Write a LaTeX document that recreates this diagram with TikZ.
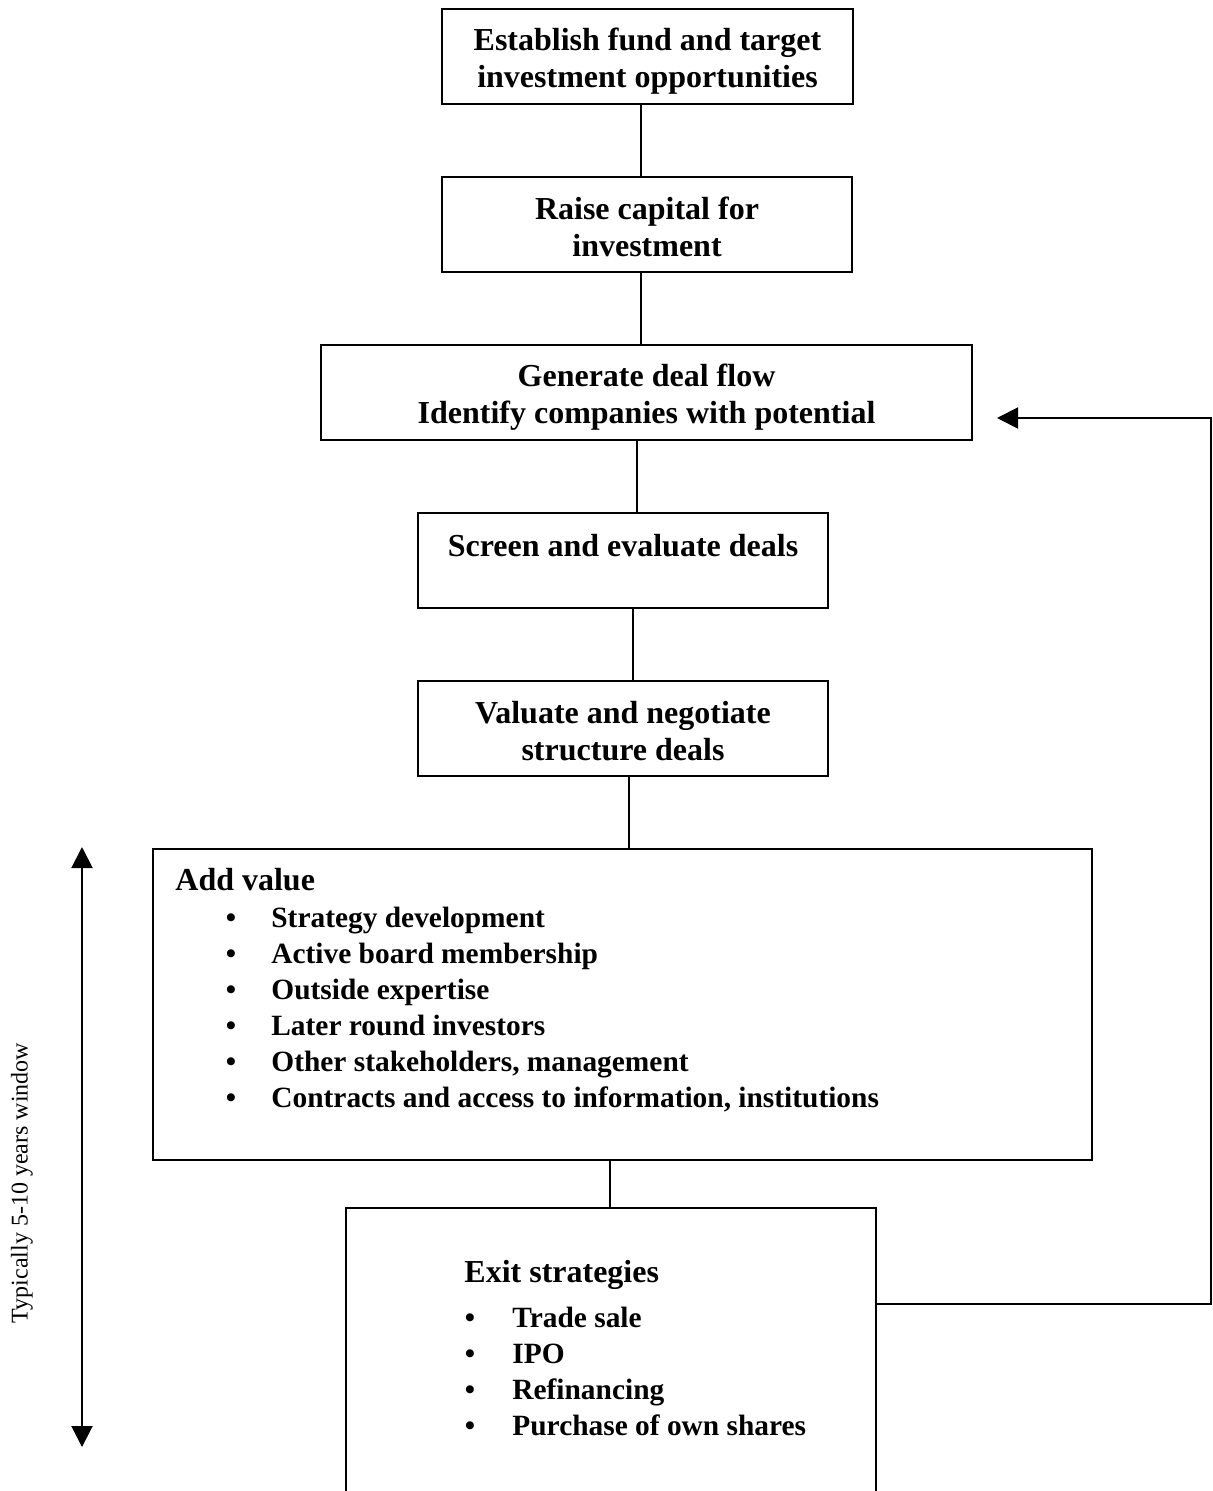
\documentclass[tikz,border=0pt]{standalone}
\usepackage{fontspec}
\setmainfont{Liberation Serif}
\usetikzlibrary{arrows.meta}
\tikzset{
  box/.style={draw, line width=1pt, rectangle, inner sep=0pt},
  boxtext/.style={inner sep=0pt, align=center,
    font=\bfseries\fontsize{16pt}{18.5pt}\selectfont},
  head/.style={anchor=base west, inner sep=0pt,
    font=\bfseries\fontsize{16pt}{18pt}\selectfont},
  item/.style={anchor=base west, inner sep=0pt,
    font=\bfseries\fontsize{14.7pt}{18pt}\selectfont},
  conn/.style={line width=1pt},
  tip/.style={-{Triangle[width=10.5pt,length=10.5pt]}},
}
\begin{document}
\begin{tikzpicture}[x=0.5pt,y=-0.5pt]
\useasboundingbox (0,0) rectangle (1213,1491);
\clip (0,0) rectangle (1213,1491);
\node[box, minimum width=205.5pt, minimum height=47.5pt] (n1) at (647.5,56.5) {};
\node[boxtext] (t1) at (647.5,61) {Establish fund and target\\investment opportunities};
\node[box, minimum width=205pt, minimum height=47.5pt] (n2) at (647,224.5) {};
\node[boxtext] (t2) at (647,227) {Raise capital for\\investment};
\node[box, minimum width=325.5pt, minimum height=47.5pt] (n3) at (646.5,392.5) {};
\node[boxtext] (t3) at (646.5,397) {Generate deal flow\\Identify companies with potential};
\node[box, minimum width=205pt, minimum height=47.5pt] (n4) at (623,560.5) {};
\node[boxtext] (t4) at (623,563.5) {Screen and evaluate deals\\\mbox{}};
\node[box, minimum width=205pt, minimum height=47.5pt] (n5) at (623,728.5) {};
\node[boxtext] (t5) at (623,731) {Valuate and negotiate\\structure deals};
\node[box, minimum width=469.5pt, minimum height=155.5pt] (n6) at (622.5,1004.5) {};
\node[box, minimum width=265pt, minimum height=156pt] (n7) at (611,1364) {};

% Add value contents
\node[head] (av) at (175,890) {Add value};
\node[item] (a1) at (225.5,927) {\makebox[22.75pt][l]{•}Strategy development};
\node[item] (a2) at (225.5,963) {\makebox[22.75pt][l]{•}Active board membership};
\node[item] (a3) at (225.5,999) {\makebox[22.75pt][l]{•}Outside expertise};
\node[item] (a4) at (225.5,1035) {\makebox[22.75pt][l]{•}Later round investors};
\node[item] (a5) at (225.5,1071) {\makebox[22.75pt][l]{•}Other stakeholders, management};
\node[item] (a6) at (225.5,1107) {\makebox[22.75pt][l]{•}Contracts and access to information, institutions};

% Exit contents
\node[head] (ex) at (464,1282) {Exit strategies};
\node[item] (e1) at (464.5,1327) {\makebox[23.75pt][l]{•}Trade sale};
\node[item] (e2) at (464.5,1363) {\makebox[23.75pt][l]{•}IPO};
\node[item] (e3) at (464.5,1399) {\makebox[23.75pt][l]{•}Refinancing};
\node[item] (e4) at (464.5,1435) {\makebox[23.75pt][l]{•}Purchase of own shares};

% connectors
\coordinate (x641) at (641,0);
\coordinate (x637) at (637,0);
\coordinate (x633) at (633,0);
\coordinate (x629) at (629,0);
\coordinate (x610) at (610,0);
\draw[conn] (n1.south -| x641) -- (n2.north -| x641);
\draw[conn] (n2.south -| x641) -- (n3.north -| x641);
\draw[conn] (n3.south -| x637) -- (n4.north -| x637);
\draw[conn] (n4.south -| x633) -- (n5.north -| x633);
\draw[conn] (n5.south -| x629) -- (n6.north -| x629);
\draw[conn] (n6.south -| x610) -- (n7.north -| x610);

% feedback loop
\coordinate (fbA) at (1211,1304);
\coordinate (fbTip) at (997,418);
\draw[conn, tip] (n7.east |- fbA) -- (fbA) |- (fbTip);

% time window arrow
\coordinate (wTop) at (82,847);
\coordinate (wBot) at (82,1447);
\draw[conn, {Triangle[width=10.5pt,length=10.5pt]}-{Triangle[width=10.5pt,length=10.5pt]}] (wTop) -- (wBot);
\node[rotate=90, inner sep=0pt, font=\fontsize{12pt}{14pt}\selectfont] (wl) at (22,1183) {Typically 5-10 years window};
\end{tikzpicture}
\end{document}
